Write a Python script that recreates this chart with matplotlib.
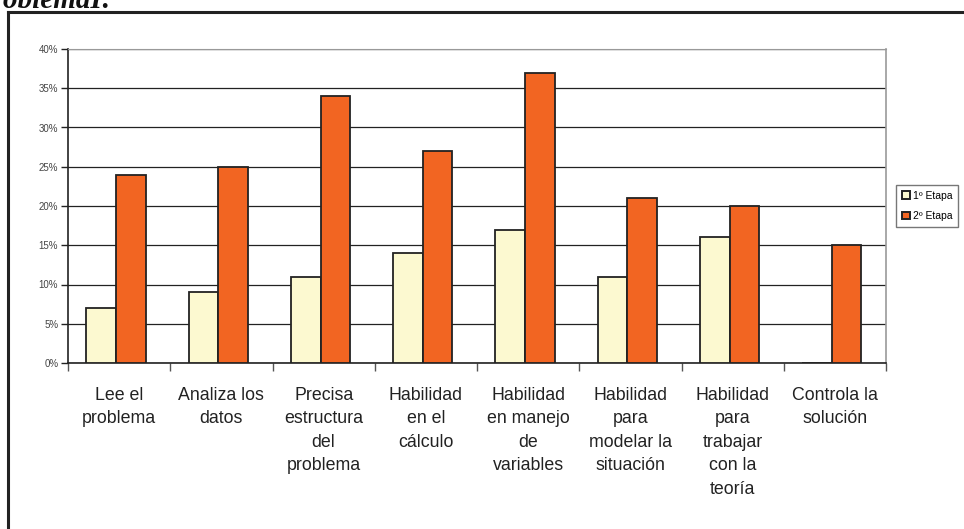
import matplotlib
matplotlib.use("Agg")
import matplotlib.pyplot as plt
from matplotlib.lines import Line2D
from matplotlib.patches import Patch
import numpy as np

categories = ["Lee el\nproblema", "Analiza los\ndatos", "Precisa\nestructura\ndel\nproblema",
              "Habilidad\nen el\ncálculo", "Habilidad\nen manejo\nde\nvariables",
              "Habilidad\npara\nmodelar la\nsituación", "Habilidad\npara\ntrabajar\ncon la\nteoría",
              "Controla la\nsolución"]
etapa1 = [7, 9, 11, 14, 17, 11, 16, 0]
etapa2 = [24, 25, 34, 27, 37, 21, 20, 15]
series_names = ["1º Etapa", "2º Etapa"]
yticks = [0, 5, 10, 15, 20, 25, 30, 35, 40]

plt.rcParams['font.family'] = ['Liberation Sans', 'DejaVu Sans']

fig = plt.figure(figsize=(9.64, 5.29), dpi=100)
ax = fig.add_axes([68/964, 1-363/529, (886-68)/964, (363-49)/529])

x = np.arange(len(categories))
w = 0.29
c1 = "#FCF9D0"
c2 = "#F26522"
ax.bar(x - w/2 - 0.03, etapa1, w, color=c1, edgecolor="#222222", linewidth=1.3, zorder=3)
ax.bar(x + w/2 - 0.03, etapa2, w, color=c2, edgecolor="#222222", linewidth=1.3, zorder=3)

ax.set_xlim(-0.5, len(categories) - 0.5)
ax.set_ylim(0, 40)
ax.set_yticks(yticks)
ax.set_yticklabels([f"{v}%" for v in yticks], fontsize=7, color="#444444")
ax.yaxis.grid(True, color="#222222", linewidth=0.9, zorder=0)
ax.set_axisbelow(True)

ax.set_xticks(x)
ax.set_xticklabels(categories, fontsize=12.8, linespacing=1.5, color="#222222", va="top")
ax.tick_params(axis='x', length=0, pad=17)
ax.set_xticks(np.arange(-0.5, len(categories) + 0.5, 1), minor=True)
ax.tick_params(axis='x', which='minor', length=6, width=1, color="#555555", direction='out')
ax.tick_params(axis='y', length=5, width=1, color="#222222", direction='out', pad=2)

for s in ['left', 'bottom']:
    ax.spines[s].set_color("#222222")
    ax.spines[s].set_linewidth(1.2)
ax.spines['top'].set_color("#999999")
ax.spines['right'].set_color("#999999")
ax.spines['right'].set_linewidth(1.2)

handles = [Patch(facecolor=c1, edgecolor="#222222", linewidth=1.4),
           Patch(facecolor=c2, edgecolor="#222222", linewidth=1.4)]
fig.legend(handles, series_names, loc='upper left', bbox_to_anchor=(896/964, 1-185/529),
           fontsize=7.5, frameon=True, fancybox=False, edgecolor="#555555",
           handlelength=0.75, handleheight=0.75, handletextpad=0.3, borderpad=0.55,
           labelspacing=1.0, borderaxespad=0)

# outer frame
fig.add_artist(Line2D([8/964, 8/964], [0, 1-12/529], transform=fig.transFigure,
                      color="#222222", linewidth=2.2))
fig.add_artist(Line2D([8/964, 1], [1-12/529, 1-12/529], transform=fig.transFigure,
                      color="#222222", linewidth=2.2))

# cut-off heading
fig.text(112/964, 1-8/529, "problemaI:", ha='right', va='baseline', fontsize=21,
         family=['Liberation Serif'], fontweight='bold', fontstyle='italic', color="#111111")

fig.savefig("out.png", dpi=100)
